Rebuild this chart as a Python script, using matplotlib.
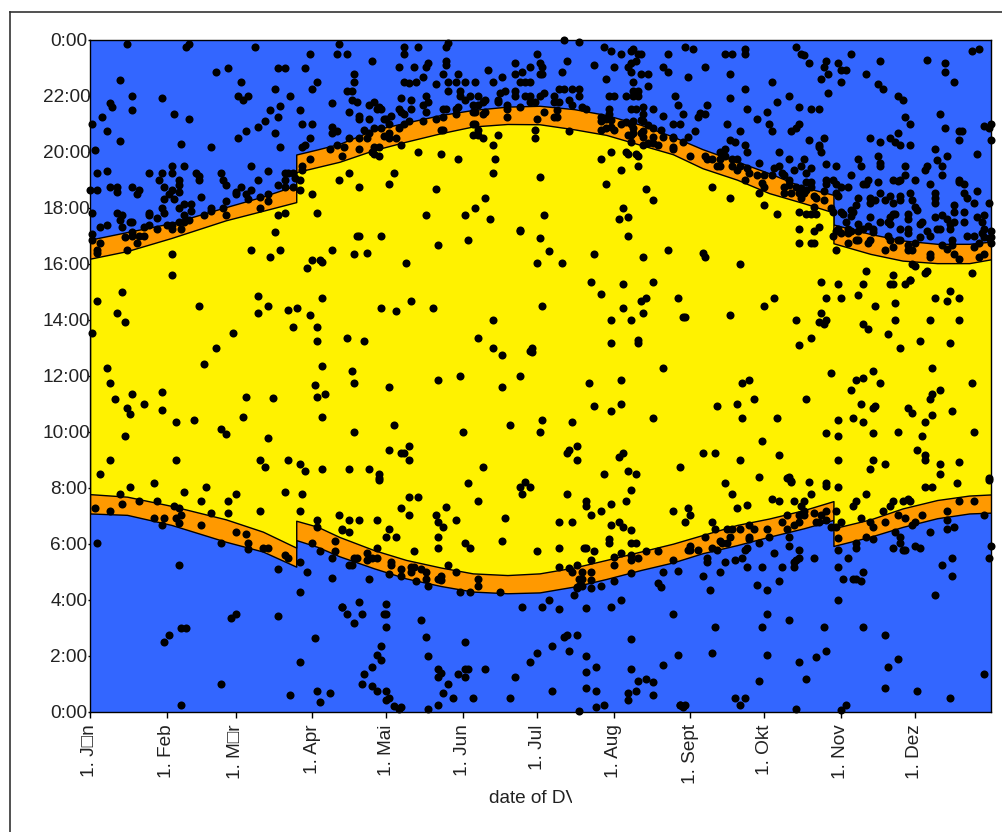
import matplotlib
matplotlib.use("Agg")
import matplotlib.pyplot as plt
from matplotlib.lines import Line2D
from matplotlib.transforms import Bbox, ScaledTranslation

plt.rcParams['font.family'] = ['Liberation Sans', 'DejaVu Sans']

# day of year, one entry per node; the two doubled days are the clock changes
edge_days = [0, 15, 33, 55, 70, 83.5, 83.5, 92, 101, 115, 128, 142, 155, 169, 182, 196, 209, 223, 236,
             248, 262, 275, 289, 301, 301, 316, 329, 343, 356, 365]
dawn_high = [7.77, 7.68, 7.35, 6.87, 6.43, 5.86, 6.82, 6.61, 6.24, 5.77, 5.42, 5.15, 4.94, 4.88, 4.94, 5.15, 5.42, 5.72, 6.0,
             6.31, 6.67, 6.9, 7.2, 7.52, 6.55, 6.87, 7.26, 7.56, 7.72, 7.76]
dawn_low = [7.08, 7.03, 6.67, 6.07, 5.72, 5.18, 6.13, 5.89, 5.55, 5.12, 4.76, 4.49, 4.29, 4.23, 4.26, 4.47, 4.74, 5.06, 5.33,
            5.66, 5.95, 6.25, 6.55, 6.85, 5.92, 6.25, 6.6, 6.91, 7.08, 7.11]
dusk_low = [16.18, 16.45, 16.92, 17.55, 17.89, 18.2, 19.27, 19.45, 19.64, 20.06, 20.36, 20.66, 20.9, 20.99, 20.98, 20.8, 20.6, 20.24, 19.91,
            19.41, 19.0, 18.52, 18.16, 17.83, 16.73, 16.35, 16.11, 16.02, 16.02, 16.16]
dusk_high = [16.86, 17.13, 17.45, 18.02, 18.4, 18.8, 19.9, 20.08, 20.28, 20.78, 21.04, 21.31, 21.49, 21.61, 21.64, 21.52, 21.31, 20.96, 20.54,
             20.09, 19.65, 19.23, 18.73, 18.46, 17.4, 17.06, 16.83, 16.71, 16.71, 16.79]

# (day, hour) of each DVC
evening_jan_apr = [
    (15,23.83),(39,23.74),(40,23.83),(67,23.74),(101,23.83),(89,23.5),(100,23.5),(51,22.83),(56,23.0),(76,23.0),(79,23.0),(87,23.0),
    (61,22.5),(12,22.57),(92,22.5),(90,22.25),(75,22.25),(17,22.0),(29,21.92),(60,22.0),(62,21.83),(64,22.0),(81,22.0),(8,21.75),(9,21.58),
    (17,21.5),(98,21.75),(77,21.65),(73,21.5),(85,21.5),(34,21.33),(5,21.25),(76,21.25),(40,21.17),(71,21.08),(1,21.0),(86,21.0),(90,21.0),
    (68,20.9),(98,20.9),(7,20.75),(63,20.75),(75,20.67),(98,20.67),(100,20.75),(60,20.5),(89,20.5),(12,20.37),(37,20.29),(49,20.17),(77,20.17),
    (86,20.17),(87,20.25),(2,20.05),(97,20.08),(100,20.25),(89,19.73),(33,19.49),(38,19.49),(65,19.49),(86,19.49),(86,19.33),(7,19.32),(3,19.24),
    (24,19.24),(29,19.24),(33,19.24),(43,19.24),(44,19.15),(44,18.99),(53,19.24),(72,19.32),(79,19.24),(80,19.24),(82,19.24),(54,18.99),(55,18.82),
    (28,18.99),(36,18.99),(36,18.82),(36,18.57),(68,18.99),(79,18.99),(83,19.07),(85,18.99),(30,18.74),(17,18.74),(8,18.74),(11,18.74),(11,18.57),
    (0,18.65),(3,18.63),(20,18.65),(19,18.49),(33,18.65),(32,18.49),(34,18.32),(30,18.32),(61,18.74),(59,18.57),(59,18.49),(63,18.49),(65,18.65),
    (64,18.32),(45,18.4),(76,18.82),(79,18.74),(82,18.74),(85,18.65),(90,18.49),(69,18.4),(72,18.49),(72,18.24),(55,18.24),(38,18.15),(41,18.15),
    (29,17.99),(30,17.81),(36,17.99),(41,17.9),(38,17.74),(49,17.99),(49,17.9),(46,17.74),(54,17.99),(55,17.74),(69,17.99),(1,17.81),(11,17.81),
    (13,17.74),(24,17.81),(24,17.74),(27,17.64),(76,17.74),(79,17.81),(92,17.81),(12,17.55),(17,17.49),(16,17.49),(7,17.4),(4,17.32),(13,17.31),
    (33,17.4),(31,17.4),(36,17.49),(40,17.55),(38,17.49),(24,17.4),(22,17.32),(27,17.24),(33,17.24),(37,17.24),(75,17.15),(1,17.07),(1,16.83),
    (17,17.15),(17,16.99),(14,16.95),(20,16.99),(22,16.99),(19,16.74),(4,16.74),(3,16.5),(3,16.38),(15,16.5),(33,16.33),(65,16.5),(77,16.5),
    (73,16.24),(98,16.5),(90,16.15),(93,16.15),(94,16.07),(88,15.83),(33,15.58),
    (108,17.0),(109,17.0),(118,17.0),(107,16.33),(112,16.4),
]
evening_apr_aug = [
    (104,23.5),(114,23.25),(127,23.75),(127,23.5),(133,23.75),(144,23.75),(145,23.9),(125,23.03),(131,23.03),(136,23.03),(137,23.18),(144,23.25),
    (144,23.11),(143,22.78),(107,22.78),(107,22.49),(127,22.49),(129,22.45),(132,22.49),(135,22.68),(140,22.43),(145,22.49),(148,22.49),(149,22.78),
    (152,22.49),(156,22.49),(161,22.93),(163,22.49),(167,22.68),(172,23.18),(172,22.78),(175,22.84),(178,23.03),(181,23.5),(182,23.18),(183,23.03),
    (182,22.78),(183,22.78),(174,22.49),(176,22.49),(178,22.49),(192,24.0),(198,23.91),(193,23.25),(191,22.84),(208,23.75),(211,23.59),(215,23.5),
    (219,23.59),(220,23.67),(222,23.5),(223,23.5),(221,23.25),(219,23.18),(218,23.03),(219,22.84),(204,23.09),(212,23.03),(232,23.03),(234,22.84),
    (234,23.5),(223,22.78),(226,22.78),(209,22.59),(220,22.49),(226,22.34),(104,22.17),(106,22.17),(106,21.85),(108,21.77),(105,21.42),(113,21.67),
    (115,21.77),(116,21.52),(118,21.52),(117,21.59),(126,21.92),(130,21.85),(130,21.52),(135,21.67),(137,21.77),(136,22.0),(136,21.43),(125,21.52),
    (126,21.42),(127,21.35),(122,21.27),(120,21.17),(119,21.17),(113,21.17),(109,21.27),(109,21.17),(145,22.17),(150,22.17),(150,22.0),(152,21.85),
    (154,22.0),(157,22.0),(155,21.67),(157,21.67),(159,21.77),(160,21.85),(165,21.85),(165,21.77),(166,22.1),(168,22.17),(172,22.17),(172,22.0),
    (176,22.0),(178,22.0),(178,21.77),(180,21.77),(182,22.0),(184,22.1),(188,22.0),(190,22.25),(192,22.25),(195,22.25),(198,22.25),(198,22.0),
    (188,21.77),(190,21.77),(194,21.85),(195,21.67),(199,21.59),(201,21.52),(210,22.0),(212,22.0),(217,22.0),(220,22.17),(222,22.17),(220,22.0),
    (222,22.0),(228,21.52),(224,21.59),(224,21.35),(219,21.52),(221,21.52),(210,21.52),(210,21.35),(232,21.27),(143,21.52),(144,21.52),(148,21.52),
    (149,21.59),(148,21.35),(143,21.25),(140,21.18),(135,21.1),(129,21.08),(127,20.99),(125,20.83),(121,21.0),(111,20.78),(113,20.68),(115,20.83),
    (118,20.83),(119,20.56),(121,20.66),(121,20.49),(124,20.49),(109,20.49),(112,20.49),(105,20.49),(103,20.18),(109,20.1),(115,20.18),(117,20.18),
    (114,20.0),(115,19.92),(117,19.84),(102,19.84),(126,20.25),(133,20.0),(142,19.92),(149,19.75),(142,20.78),(143,20.78),(155,21.43),(156,21.43),
    (159,21.35),(160,21.43),(169,21.67),(169,21.52),(169,21.25),(174,21.59),(184,21.43),(181,21.18),(188,21.25),(189,21.25),(189,21.5),(155,21.0),
    (156,21.0),(157,20.78),(155,20.59),(157,20.59),(159,20.49),(165,20.59),(163,20.25),(164,19.75),(163,19.25),(180,20.78),(180,20.49),(194,20.75),
    (182,19.09),(207,19.75),(211,20.0),(217,20.0),(218,19.92),(221,19.92),(222,19.84),(222,19.5),(215,19.34),(209,18.84),(225,18.67),(228,18.27),
    (216,18.0),(218,17.67),(214,17.59),(184,17.75),(162,17.59),(156,18.0),(160,18.35),(152,17.75),(136,17.75),(140,18.67),(121,18.84),(123,19.25),
    (109,18.75),(105,19.25),(101,19.0),(174,17.2),(207,21.25),(207,21.08),(209,21.18),(211,21.13),(207,20.78),(209,20.83),(211,20.9),(212,20.78),
    (215,21.0),(217,21.05),(219,21.0),(220,21.1),(223,21.13),(224,21.08),(226,20.96),(220,20.84),(224,20.75),(228,20.83),(231,20.78),(218,20.59),
    (219,20.59),(220,20.66),(223,20.66),(224,20.54),(228,20.54),(219,20.35),(224,20.24),(226,20.3),(228,20.3),(230,20.24),(232,20.54),(236,20.52),
]
evening_aug_dec = [
    (241,23.75),(244,23.67),(257,23.5),(260,23.5),(265,23.67),(265,23.5),(286,23.75),(288,23.5),(289,23.45),(291,23.18),(308,23.5),(298,23.25),
    (303,23.18),(320,23.25),(297,23.03),(304,22.93),(306,22.93),(339,23.27),(346,23.18),(346,22.84),(357,23.59),(360,23.67),(249,23.03),(259,22.78),
    (242,22.68),(299,22.78),(296,22.59),(304,22.49),(314,22.78),(319,22.43),(321,22.25),(276,22.49),(350,22.49),(265,22.24),(299,22.09),(283,22.0),
    (259,21.92),(327,22.0),(329,21.85),(237,22.0),(238,21.67),(240,21.35),(250,21.67),(249,21.35),(247,21.4),(246,21.25),(278,21.77),(266,21.52),
    (287,21.59),(292,21.52),(295,21.52),(274,21.43),(270,21.18),(344,21.35),(330,21.25),(332,21.0),(258,21.0),(275,21.0),(276,20.75),(287,21.0),
    (286,20.83),(284,20.75),(236,21.0),(239,21.0),(245,20.75),(263,20.75),(346,20.83),(352,20.75),(353,20.75),(362,20.92),(364,20.83),(365,21.0),
    (327,20.67),(316,20.5),(324,20.5),(326,20.34),(328,20.25),(332,20.25),(320,20.34),(352,20.43),(365,20.43),(297,20.5),(291,20.43),(295,20.25),
    (295,20.16),(296,20.0),(259,20.43),(261,20.34),(265,20.25),(266,20.0),(342,20.1),(359,19.93),(347,19.84),(343,19.7),(345,19.5),(279,20.0),
    (283,19.75),(289,19.75),(288,19.5),(292,19.43),(290,19.25),(285,19.34),(298,19.57),(302,19.5),(311,19.75),(312,19.5),(319,19.84),(320,19.59),
    (320,19.5),(330,19.5),(330,19.17),(339,19.5),(338,19.34),(345,19.17),(308,19.17),(271,19.59),(279,19.5),(277,19.43),(280,19.25),(281,19.17),
    (283,19.0),(236,20.5),(236,20.18),(236,20.1),(240,20.35),(242,20.53),(243,19.84),(249,19.84),(250,19.75),(255,20.0),(257,20.1),(252,19.75),
    (255,19.75),(257,19.84),(260,19.75),(262,19.75),(260,19.5),(262,19.34),(263,19.5),(255,19.5),(254,19.5),(266,19.43),(267,19.23),(270,19.17),
    (273,19.17),(276,19.17),(265,19.0),(272,18.88),(273,18.75),(252,18.75),(259,18.35),(271,18.52),(273,18.09),(278,17.77),(281,18.75),(283,18.81),
    (281,18.52),(284,18.52),(286,18.75),(288,18.72),(290,18.64),(287,18.52),(289,18.52),(288,18.34),(290,18.92),(292,18.92),(292,18.75),(293,18.43),
    (294,18.36),(297,18.27),(298,19.0),(298,18.84),(297,18.61),(301,19.0),(302,18.84),(304,18.75),(307,18.75),(302,18.52),(303,18.43),(313,18.84),
    (314,18.84),(315,19.0),(319,18.92),(325,19.0),(327,18.97),(328,19.0),(334,19.0),(340,18.84),(352,19.0),(352,18.92),(354,18.84),(320,18.52),
    (316,18.35),(316,18.18),(318,18.27),(322,18.27),(324,18.43),(325,18.18),(328,18.43),(328,18.27),(332,18.52),(333,18.27),(334,18.02),(335,17.92),
    (342,18.52),(342,18.35),(342,18.18),(354,18.52),(355,18.35),(358,18.18),(359,18.6),(364,18.16),(350,18.09),(350,17.84),(354,17.84),(311,18.35),
    (310,18.09),(308,17.92),(309,17.84),(308,17.72),(300,18.0),(301,17.84),(304,17.84),(305,17.77),(293,18.04),(294,17.77),(292,17.77),(290,17.77),
    (287,17.84),(287,17.25),(293,17.17),(295,17.3),(287,16.75),(292,16.75),(293,16.75),(302,16.49),(248,16.37),(249,16.25),(263,16.0),(314,15.75),
    (325,15.59),(339,15.75),(338,15.67),(333,16.0),(334,15.92),(332,15.42),(357,15.67),(316,17.67),(320,17.5),(324,17.67),(325,17.77),(326,17.77),
    (323,17.5),(324,17.42),(331,17.77),(331,17.59),(328,17.25),(331,17.25),(331,17.09),(337,17.5),(336,17.42),(339,17.17),(340,17.0),(336,16.97),
    (342,17.67),(343,17.25),(344,17.25),(345,17.75),(347,17.59),(348,17.42),(348,17.25),(350,17.5),(354,17.5),(359,17.67),(362,17.75),(361,17.5),
    (362,17.25),(361,17.09),(355,17.0),(358,17.0),(365,17.17),(365,16.97),(365,16.75),(364,16.91),(362,16.97),(360,16.75),(358,16.59),(362,16.35),
    (360,16.25),(352,16.16),(350,16.35),(347,16.52),(345,16.67),(349,16.85),(349,16.67),(340,16.35),(340,16.25),(334,16.73),(333,16.49),(331,16.67),
    (331,16.49),(328,16.85),(327,16.85),(325,16.6),(324,16.85),(323,17.0),(322,16.49),(316,16.85),(315,16.75),(311,16.85),(310,16.85),(317,17.25),
    (317,17.14),(315,17.33),(313,17.25),(311,17.42),(311,17.17),(308,17.17),(306,17.5),(307,17.25),(307,17.09),(307,16.75),(303,17.25),(304,17.09),
    (301,17.0),(302,17.17),
]
midday = [
    (13,15.0),(3,14.68),(11,14.25),(14,13.93),(1,13.51),(44,14.5),(68,14.83),(72,14.5),(68,14.25),(80,14.33),(84,14.42),(94,14.76),(89,14.18),
    (82,13.75),(92,13.75),(92,13.25),(104,13.35),(111,13.25),(118,14.42),(58,13.51),(51,13.0),(46,12.42),(7,12.26),(8,11.75),(10,11.17),(17,11.33),
    (22,11.0),(15,10.85),(16,10.63),(29,11.42),(29,10.76),(35,10.35),(42,10.42),(53,10.08),(55,9.92),(62,10.51),(63,11.25),(74,11.19),(14,9.85),
    (72,9.76),(94,12.33),(106,12.18),(107,11.75),(91,11.67),(92,11.25),(95,11.33),(94,10.51),(107,10.0),(8,9.0),(35,9.0),(4,8.5),(69,9.0),(71,8.75),
    (80,9.0),(85,8.83),(87,8.58),(94,8.67),(105,8.67),(113,8.67),(117,8.5),(117,8.33),(174,17.18),(182,16.93),(153,16.85),(141,16.68),(218,17.0),
    (186,16.45),(204,16.35),(234,16.49),(224,16.23),(181,16.01),(191,16.01),(128,16.01),(203,15.33),(216,15.28),(228,15.33),(207,14.92),(223,14.68),
    (225,14.76),(238,14.76),(130,14.67),(124,14.31),(139,14.42),(183,14.5),(216,14.42),(224,14.25),(211,14.0),(219,14.0),(240,14.11),(163,14.0),
    (157,13.35),(163,13.0),(167,12.75),(179,13.0),(178,12.9),(179,12.83),(211,13.16),(222,13.26),(222,13.16),(232,12.26),(215,11.83),(202,11.75),
    (141,11.83),(150,12.0),(174,12.0),(167,11.58),(121,11.58),(204,10.92),(215,11.0),(211,10.75),(228,10.5),(123,10.25),(151,10.0),(170,10.25),
    (183,10.42),(182,10.0),(195,10.33),(121,9.34),(129,9.5),(126,9.25),(127,9.25),(129,9.0),(159,8.75),(197,9.5),(194,9.34),(193,9.25),(197,9.0),
    (216,9.25),(214,9.08),(208,8.5),(218,8.58),(221,8.5),(239,8.75),(325,15.27),(296,15.33),(303,15.27),(313,15.27),(324,15.27),(330,15.27),(332,15.42),
    (311,14.9),(298,14.76),(304,14.76),(277,14.76),(273,14.5),(259,14.17),(241,14.08),(318,14.5),(326,14.58),(342,14.76),(348,15.01),(347,14.68),
    (352,14.76),(296,14.25),(286,14.0),(298,14.0),(295,13.93),(297,13.83),(326,14.0),(340,14.0),(352,14.0),(313,13.84),(315,13.67),(323,13.5),
    (336,13.25),(348,13.17),(328,13.0),(292,13.34),(287,13.08),(341,12.26),(317,12.17),(300,12.08),(313,11.93),(310,11.84),(320,11.75),(357,11.75),
    (267,11.83),(264,11.75),(308,11.5),(344,11.5),(341,11.33),(340,11.17),(269,11.17),(290,11.17),(254,10.92),(262,11.0),(264,10.5),(278,10.5),
    (312,11.0),(318,10.92),(317,10.83),(331,10.86),(333,10.67),(349,10.75),(341,10.6),(309,10.5),(303,10.42),(313,10.33),(338,10.33),(298,9.95),
    (303,9.83),(317,9.95),(327,10.0),(337,9.83),(358,10.0),(272,9.67),(248,9.25),(253,9.25),(263,9.0),(279,9.18),(303,9.0),(317,9.0),(322,8.84),
    (316,8.67),(335,9.33),(338,9.17),(338,9.0),(344,8.84),(352,8.93),(344,8.49),(271,8.4),(283,8.4),(282,8.33),(284,8.25),(364,8.33),
]
morning_jan_apr = [
    (16,8.01),(26,8.16),(47,8.01),(38,7.85),(79,7.85),(86,7.76),(59,7.76),(12,7.76),(13,7.43),(20,7.51),(27,7.51),(45,7.51),(56,7.51),(2,7.26),
    (8,7.18),(34,7.35),(36,7.26),(49,7.08),(56,7.08),(69,7.18),(85,7.18),(101,7.01),(26,6.92),(30,6.92),(35,6.92),(37,7.03),(36,6.75),(29,6.67),
    (45,6.67),(92,6.83),(92,6.58),(59,6.43),(63,6.35),(102,6.49),(3,6.01),(53,6.01),(64,6.01),(90,6.01),(99,6.1),(64,5.81),(70,5.85),(72,5.85),
    (93,5.75),(99,5.75),(79,5.6),(80,5.5),(98,5.5),(85,5.35),(36,5.23),(76,5.08),(88,5.0),(98,4.76),(85,4.26),(102,3.75),(59,3.5),(57,3.35),
    (76,3.43),(37,3.0),(39,3.0),(32,2.75),(30,2.5),(91,2.65),(85,1.76),(53,1.0),(81,0.58),(92,0.75),(97,0.68),(93,0.34),(37,0.25),
]
morning_apr_aug = [
    (117,8.27),(153,8.16),(176,8.21),(174,8.01),(178,8.01),(175,7.76),(193,7.76),(219,7.93),(129,7.68),(133,7.68),(157,7.51),(201,7.51),(201,7.35),
    (211,7.43),(217,7.51),(126,7.26),(144,7.32),(207,7.18),(236,7.18),(129,7.01),(140,7.01),(203,7.01),(168,6.92),(141,6.76),(148,6.83),(105,6.83),
    (109,6.83),(116,6.83),(190,6.76),(195,6.76),(211,6.68),(214,6.76),(216,6.6),(143,6.6),(219,6.5),(121,6.51),(102,6.51),(105,6.43),(120,6.25),
    (124,6.25),(141,6.25),(210,6.18),(210,6.01),(219,6.01),(221,6.01),(167,6.1),(152,6.01),(154,5.85),(116,5.85),(141,5.85),(190,5.85),(200,5.85),
    (201,5.85),(204,5.75),(181,5.75),(131,5.75),(215,5.67),(212,5.51),(225,5.75),(230,5.75),(222,5.5),(219,5.6),(219,5.42),(203,5.42),(212,5.25),
    (236,5.42),(112,5.67),(112,5.42),(114,5.5),(116,5.5),(107,5.5),(108,5.5),(105,5.25),(106,5.25),(122,5.35),(122,5.25),(126,5.08),(130,5.17),
    (131,5.17),(130,5.0),(134,5.08),(136,5.0),(145,5.25),(148,5.0),(190,5.17),(194,5.12),(195,5.0),(197,5.25),(199,5.0),(203,5.0),(232,5.0),(219,4.94),
    (121,4.92),(126,4.83),(136,4.75),(141,4.75),(142,4.83),(142,4.7),(132,4.67),(137,4.5),(113,4.75),(157,4.75),(157,4.5),(150,4.26),(154,4.26),
    (166,4.26),(198,4.75),(199,4.75),(203,4.7),(212,4.67),(198,4.5),(197,4.47),(199,4.5),(203,4.42),(207,4.5),(197,4.42),(196,4.17),(230,4.58),
    (231,4.47),(215,3.99),(186,3.99),(109,3.92),(120,3.83),(102,3.75),(175,3.74),(183,3.74),(190,3.67),(201,3.71),(211,3.74),(104,3.5),(110,3.5),
    (119,3.5),(120,3.5),(236,3.5),(107,3.18),(134,3.26),(120,3.03),(136,2.67),(152,2.5),(193,2.75),(192,2.67),(197,2.75),(219,2.6),(118,2.35),
    (187,2.35),(116,2.01),(118,1.83),(137,2.0),(181,2.08),(194,2.17),(201,2.0),(238,2.01),(178,1.76),(114,1.58),(111,1.35),(141,1.51),(142,1.4),
    (141,1.25),(149,1.35),(152,1.51),(153,1.51),(152,1.25),(160,1.51),(172,1.25),(201,1.43),(205,1.58),(219,1.51),(232,1.68),(110,1.0),(114,0.92),
    (116,0.75),(145,1.0),(143,0.68),(120,0.75),(187,0.75),(201,0.83),(205,0.75),(218,0.68),(221,0.75),(222,1.1),(225,1.17),(228,1.06),(228,0.58),
    (121,0.5),(120,0.42),(147,0.5),(155,0.5),(170,0.5),(218,0.42),(123,0.22),(125,0.09),(126,0.18),(137,0.09),(141,0.25),(205,0.17),(208,0.25),
    (198,0.01),(239,0.25),
]
morning_aug_dec = [
    (257,8.16),(284,8.21),(291,8.21),(298,8.16),(298,8.07),(303,8.01),(338,8.01),(341,8.01),(351,8.16),(364,8.27),(260,7.76),(292,7.76),(314,7.76),
    (276,7.6),(279,7.51),(285,7.51),(289,7.51),(310,7.51),(329,7.51),(331,7.6),(332,7.51),(352,7.51),(358,7.51),(325,7.51),(266,7.4),(262,7.29),
    (242,7.26),(288,7.35),(309,7.35),(324,7.35),(321,7.18),(347,7.18),(298,7.18),(289,7.18),(302,7.18),(243,7.01),(282,7.01),(293,7.08),(296,7.01),
    (289,7.01),(287,7.01),(327,7.01),(330,6.93),(337,7.01),(362,7.01),(312,6.93),(241,6.76),(252,6.76),(280,6.76),(285,6.68),(287,6.76),(294,6.76),
    (295,6.76),(298,6.85),(304,6.76),(316,6.76),(322,6.76),(334,6.76),(347,6.85),(253,6.51),(258,6.51),(260,6.51),(263,6.51),(267,6.68),(269,6.51),
    (274,6.51),(282,6.51),(300,6.6),(302,6.6),(317,6.6),(333,6.68),(350,6.6),(347,6.51),(340,6.43),(326,6.43),(249,6.25),(259,6.25),(267,6.25),(267,6.17),
    (275,6.25),(283,6.25),(314,6.25),(317,6.17),(328,6.25),(255,6.1),(243,5.93),(258,6.01),(256,6.01),(271,6.01),(283,5.93),(303,6.19),(328,6.01),
    (310,6.01),(334,5.93),(252,5.85),(266,5.85),(242,5.76),(246,5.76),(243,5.76),(254,5.76),(265,5.76),(287,5.76),(303,5.76),(310,5.85),(325,5.85),
    (329,5.76),(330,5.76),(336,5.85),(250,5.5),(250,5.34),(257,5.34),(261,5.42),(264,5.48),(277,5.66),(287,5.5),(285,5.34),(286,5.42),(285,5.17),
    (293,5.5),(307,5.48),(349,5.5),(364,5.5),(365,5.93),(345,5.25),(238,5.04),(248,4.83),(255,5.0),(266,5.17),(272,5.17),(280,5.17),(303,5.17),
    (313,5.0),(305,4.75),(309,4.75),(310,4.75),(312,4.67),(349,4.83),(251,4.34),(270,4.51),(274,4.34),(279,4.67),(303,3.99),(342,4.17),(274,3.5),
    (253,3.01),(272,3.01),(283,3.26),(297,3.01),(313,3.01),(322,2.75),(252,2.08),(274,2.01),(298,2.17),(294,1.95),(287,1.76),(327,1.87),(323,1.58),
    (362,1.35),(271,1.08),(290,1.16),(322,0.83),(335,0.75),(348,0.5),(261,0.5),(265,0.5),(263,0.25),(239,0.25),(240,0.17),(241,0.25),(286,0.09),
    (306,0.25),(304,0.05),
]

month_days = [0, 31, 59, 90, 120, 151, 181, 212, 243, 273, 304, 334]
month_labels = ['1. J\u25a1n', '1. Feb', '1. M\u25a1r', '1. Apr', '1. Mai', '1. Jun', '1. Jul', '1. Aug', '1. Sept', '1. Okt', '1. Nov', '1. Dez']
hour_ticks = [0, 2, 4, 6, 8, 10, 12, 14, 16, 18, 20, 22, 24]
hour_labels = ['0:00', '2:00', '4:00', '6:00', '8:00', '10:00', '12:00', '14:00', '16:00', '18:00', '20:00', '22:00', '0:00']

fig = plt.figure(figsize=(10.03, 8.32), dpi=100)
ax = fig.add_axes([90 / 1003, 1 - 711.7 / 832, 901.5 / 1003, 672 / 832], facecolor='#3366ff')

ax.fill_between(edge_days, dawn_low, dusk_high, facecolor='#ff9900', edgecolor='black', linewidth=1)
ax.fill_between(edge_days, dawn_high, dusk_low, facecolor='#fff200', edgecolor='black', linewidth=1)

points = (evening_jan_apr + evening_apr_aug + evening_aug_dec + midday
          + morning_jan_apr + morning_apr_aug + morning_aug_dec)
day = [p[0] for p in points]
hour = [p[1] for p in points]
ax.plot(day, hour, 'o', color='black', ms=5.8, mew=0, clip_on=False, zorder=5)

ax.set_xlim(0, 365)
ax.set_ylim(0, 24)
ax.set_xticks(month_days)
ax.set_xticklabels(month_labels, rotation=90, fontsize=13.7, color='#222222')
ax.set_yticks(hour_ticks)
ax.set_yticklabels(hour_labels, fontsize=13.7, color='#222222')
ax.tick_params(axis='x', length=4, width=1, pad=5)
ax.tick_params(axis='y', length=1.8, width=1, pad=0)

# two-digit hours run into the axis and are cut off by it
keep_left = Bbox([[0, 0], [90, 832]])
shift = ScaledTranslation(3 / 100, 0, fig.dpi_scale_trans)
for lab, txt in zip(ax.get_yticklabels(), hour_labels):
    if len(txt) == 5:
        lab.set_transform(lab.get_transform() + shift)
        lab.set_clip_box(keep_left)
        lab.set_clip_on(True)

for s in ax.spines.values():
    s.set_linewidth(1)

xlab = fig.text(489 / 1003, 1 - 803 / 832, 'date of DV', fontsize=13.7, color='#222222', ha='left', va='baseline')
xlab.set_clip_box(Bbox([[0, 0], [572, 832]]))
xlab.set_clip_on(True)

# outer frame, cut off by the image edge on the right and at the bottom
fig.add_artist(Line2D([10 / 1003, 10 / 1003], [0, 1 - 12 / 832], color='#333333', lw=1.2))
fig.add_artist(Line2D([10 / 1003, 1], [1 - 12 / 832, 1 - 12 / 832], color='#333333', lw=1.2))

fig.savefig('out.png', dpi=100)
